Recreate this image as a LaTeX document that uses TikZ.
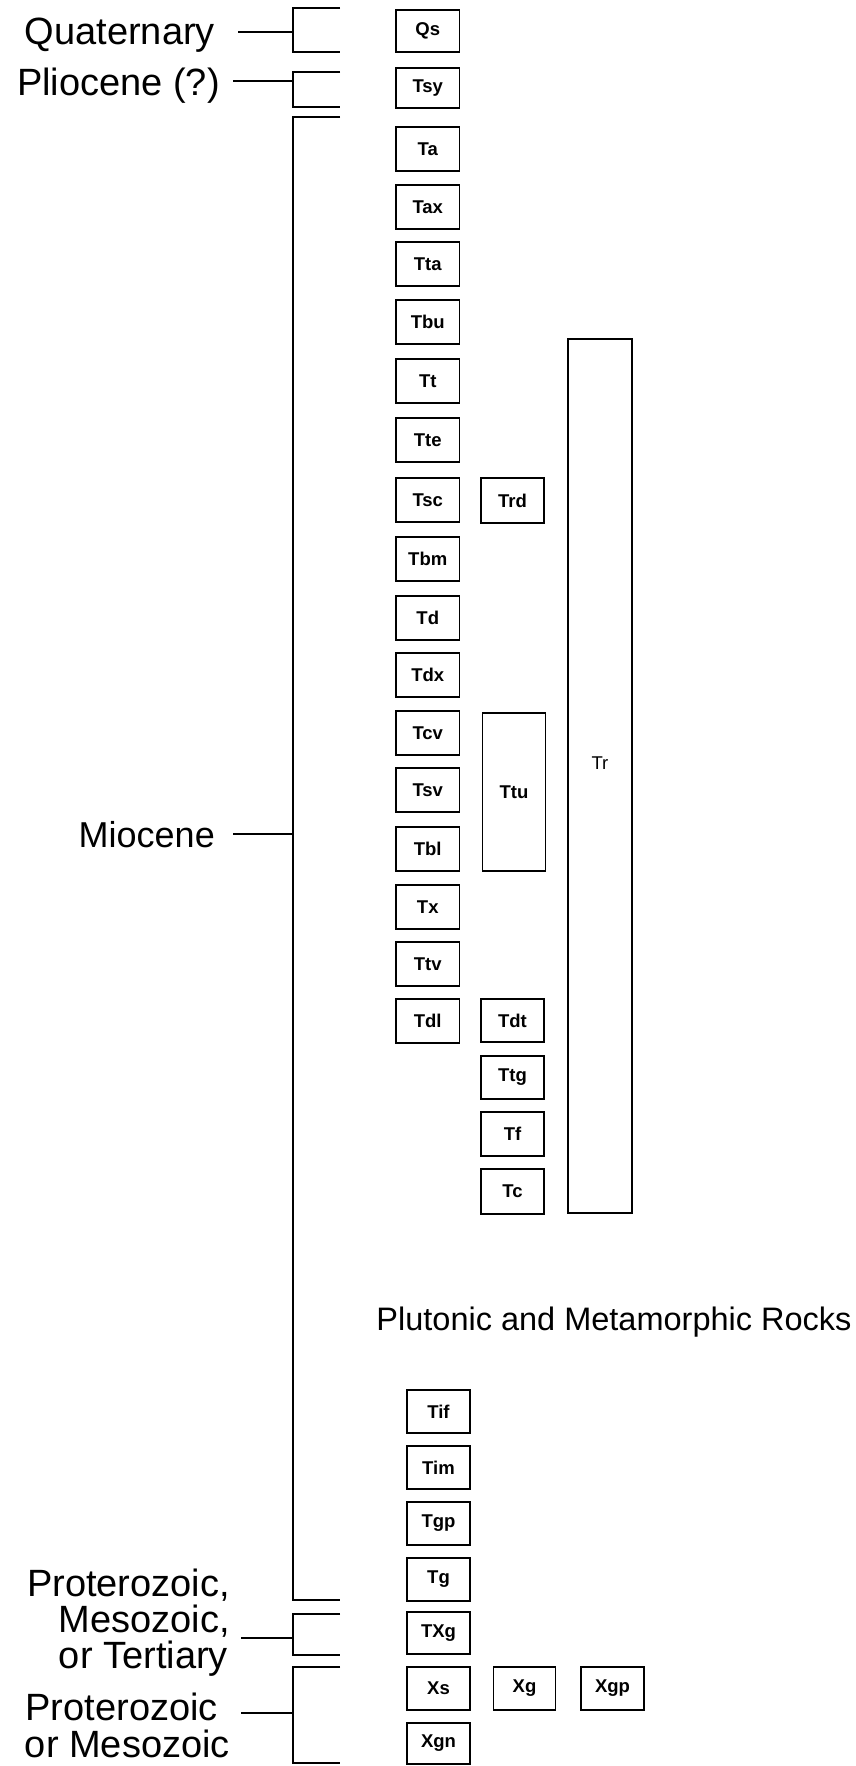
\documentclass[tikz,border=0pt]{standalone}
\usepackage{fontspec}
\setmainfont{Liberation Sans}
\newcommand{\geobox}[6]{\node[box, minimum width=#4pt, minimum height=#5pt] (#1) at (#2,#3) {#6};}
\begin{document}
\begin{tikzpicture}[x=1pt,y=-1pt,
  box/.style={draw, line width=1.1pt, inner sep=0pt, font=\fontsize{18.5}{20}\selectfont\bfseries},
  lbl/.style={font=\fontsize{38}{44}\selectfont, inner sep=0pt, anchor=base east},
  br/.style={line width=1.2pt}]
\useasboundingbox (0,0) rectangle (856,1766);
% column 1
\geobox{Qs}{427.75}{31}{63.5}{42}{Qs}
\geobox{Tsy}{427.75}{88}{63.5}{40}{Tsy}
\geobox{Ta}{427.75}{149}{63.5}{44}{Ta}
\geobox{Tax}{427.75}{207}{63.5}{44}{Tax}
\geobox{Tta}{427.75}{264}{63.5}{44}{Tta}
\geobox{Tbu}{427.75}{322}{63.5}{44}{Tbu}
\geobox{Tt}{427.75}{381}{63.5}{44}{Tt}
\geobox{Tte}{427.75}{440}{63.5}{44}{Tte}
\geobox{Tsc}{427.75}{500}{63.5}{44}{Tsc}
\geobox{Tbm}{427.75}{559}{63.5}{44}{Tbm}
\geobox{Td}{427.75}{618}{63.5}{44}{Td}
\geobox{Tdx}{427.75}{675}{63.5}{44}{Tdx}
\geobox{Tcv}{427.75}{733}{63.5}{44}{Tcv}
\geobox{Tsv}{427.75}{790}{63.5}{44}{Tsv}
\geobox{Tbl}{427.75}{849}{63.5}{44}{Tbl}
\geobox{Tx}{427.75}{907}{63.5}{44}{Tx}
\geobox{Ttv}{427.75}{964}{63.5}{44}{Ttv}
\geobox{Tdl}{427.75}{1021}{63.5}{44}{Tdl}
% column 2
\geobox{Trd}{512.5}{500.5}{63}{45}{Trd}
\geobox{Ttu}{514}{792}{63}{158}{Ttu}
\geobox{Tdt}{512.5}{1020.5}{63}{43}{Tdt}
\geobox{Ttg}{512.5}{1077.5}{63}{43}{Ttg}
\geobox{Tf}{512.5}{1134}{63}{44}{Tf}
\geobox{Tc}{512.5}{1191.5}{63}{45}{Tc}
% Tr
\node[draw, line width=1.1pt, minimum width=64pt, minimum height=874pt, inner sep=0pt] (Tr) at (600,776) {};
\node[font=\fontsize{18.5}{20}\selectfont, inner sep=0pt] (Trlbl) at (600,763) {Tr};
% plutonic
\node[font=\fontsize{32.5}{38}\selectfont, inner sep=0pt, anchor=base] (plut) at (614,1330) {Plutonic and Metamorphic Rocks};
\geobox{Tif}{438.5}{1411.5}{63}{43}{Tif}
\geobox{Tim}{438.5}{1467.5}{63}{43}{Tim}
\geobox{Tgp}{438.5}{1523.5}{63}{43}{Tgp}
\geobox{Tg}{438.5}{1579.5}{63}{43}{Tg}
\geobox{TXg}{438.5}{1633}{63}{42}{TXg}
\geobox{Xs}{438.5}{1688.5}{63}{43}{Xs}
\geobox{Xg}{524.5}{1688.5}{62}{43}{Xg}
\geobox{Xgp}{612.5}{1688.5}{63}{43}{Xgp}
\geobox{Xgn}{438.5}{1743.5}{63}{41}{Xgn}
% labels
\node[lbl] (lq) at (215,45) {Quaternary};
\node[lbl] (lp) at (220,96) {Pliocene (?)};
\node[lbl, font=\fontsize{36}{42}\selectfont] (lm) at (215,847) {Miocene};
\node[lbl] (lpmt1) at (230,1596) {Proterozoic,};
\node[lbl] (lpmt2) at (230,1632) {Mesozoic,};
\node[lbl] (lpmt3) at (228,1668) {or Tertiary};
\node[lbl] (lpm1) at (218,1720) {Proterozoic};
\node[lbl] (lpm2) at (230,1757) {or Mesozoic};
% brackets
\draw[br] (340,8) -- (293,8) -- (293,52) -- (340,52);
\draw[br] (238,32) -- (293,32);
\draw[br] (340,72) -- (293,72) -- (293,107) -- (340,107);
\draw[br] (233,81) -- (293,81);
\draw[br] (340,117) -- (293,117) -- (293,1600) -- (340,1600);
\draw[br] (233,834) -- (293,834);
\draw[br] (340,1614) -- (293,1614) -- (293,1655) -- (340,1655);
\draw[br] (241,1638) -- (293,1638);
\draw[br] (340,1667) -- (293,1667) -- (293,1763) -- (340,1763);
\draw[br] (241,1713) -- (293,1713);
\end{tikzpicture}
\end{document}
